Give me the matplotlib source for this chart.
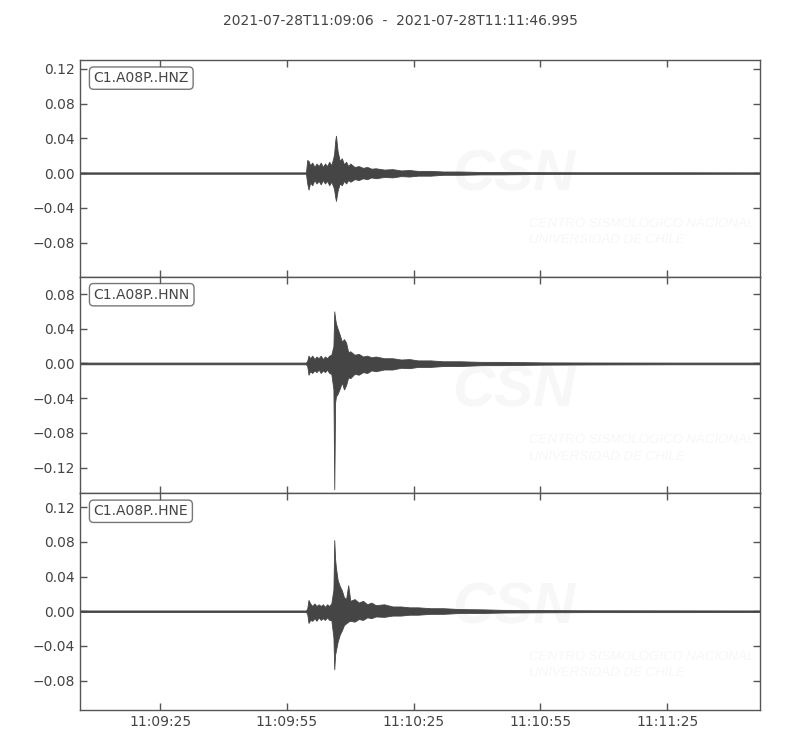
import datetime as dt
import matplotlib
matplotlib.use("Agg")
import matplotlib.pyplot as plt
import matplotlib.dates as mdates
from matplotlib.ticker import MultipleLocator

start = dt.datetime(2021, 7, 28, 11, 9, 6)
duration = 160.995
title = "2021-07-28T11:09:06  -  2021-07-28T11:11:46.995"
channels = ["C1.A08P..HNZ", "C1.A08P..HNN", "C1.A08P..HNE"]

t_sec = [0, 53.5, 53.8, 54.1, 54.5, 55, 55.5, 56, 56.5, 57,
         57.5, 58, 58.5, 59, 59.5, 60, 60.2, 60.4, 60.6, 61,
         61.5, 62, 62.5, 63, 63.5, 64, 65, 66, 67, 68,
         69, 70, 72, 74, 76, 78, 80, 83, 86, 90,
         95, 100, 110, 120, 140, 161]

# envelope (max / min) of each trace, in units of 1e-3
hnz_max = [0.8, 0.8, 15, 14, 9, 12, 7, 11, 8, 12,
           7, 11, 8, 13, 9, 18, 24, 36, 43, 25,
           14, 17, 10, 13, 8, 11, 7, 8, 6, 7,
           5, 5.5, 4, 4.5, 3, 3.5, 2.5, 2.5, 1.8, 1.8,
           1.2, 1.2, 1.0, 0.9, 0.9, 0.8]
hnz_min = [-0.8, -0.8, -12, -19, -11, -14, -8, -12, -9, -13,
           -8, -12, -9, -14, -10, -16, -20, -27, -32, -20,
           -12, -14, -9, -12, -8, -10, -7, -8, -6, -7,
           -5, -6, -4.5, -5, -3.5, -4, -3, -3, -2, -2,
           -1.5, -1.5, -1, -0.9, -0.9, -0.8]

hnn_max = [1, 1, 3, 9, 6, 9, 5, 8, 6, 9,
           5, 8, 6, 9, 10, 20, 60, 52, 46, 40,
           33, 25, 28, 24, 13, 14, 10, 11, 8, 9,
           7, 8, 6, 6, 4.5, 5, 3.5, 3.5, 2.5, 2.5,
           1.8, 1.8, 1.2, 1.1, 1, 1]
hnn_min = [-1, -1, -3, -13, -9, -11, -8, -10, -7, -11,
           -8, -10, -7, -11, -12, -30, -145, -45, -38, -35,
           -29, -22, -30, -25, -16, -17, -12, -13, -10, -11,
           -8, -9, -7, -7, -5, -5.5, -4, -4, -3, -3,
           -2, -2, -1.4, -1.2, -1, -1]

hne_max = [0.9, 0.9, 3, 13, 9, 6, 9, 6, 8, 6,
           8, 5, 8, 6, 9, 25, 82, 60, 50, 36,
           29, 24, 16, 14, 30, 12, 14, 10, 12, 8,
           10, 7, 8, 5.5, 5.5, 4.5, 4.5, 3.5, 3.5, 2.5,
           2.2, 1.6, 1.3, 1.1, 1, 0.9]
hne_min = [-0.9, -0.9, -3, -13.5, -10, -11, -8, -11, -7, -10,
           -8, -10, -7, -10, -10, -30, -67, -50, -45, -35,
           -27, -22, -16, -14, -12, -11, -12, -9, -10, -7,
           -8, -6, -6.5, -5, -5, -4, -4, -3, -3, -2,
           -2, -1.5, -1.2, -1, -1, -0.9]

envelopes = [(hnz_min, hnz_max), (hnn_min, hnn_max), (hne_min, hne_max)]
ylims = [(-0.1195, 0.1298), (-0.1499, 0.0998), (-0.1138, 0.1357)]

trace_color = "#454545"
text_color = "#444444"
spine_color = "#555555"
mark_color = "#f7f7f7"

times = mdates.date2num([start + dt.timedelta(seconds=s) for s in t_sec])
t0 = mdates.date2num(start)
t1 = mdates.date2num(start + dt.timedelta(seconds=duration))

fig, axes = plt.subplots(3, 1, figsize=(8, 7.5), dpi=100, sharex=True)
fig.subplots_adjust(left=0.1, right=0.95, top=0.9196, bottom=0.0533, hspace=0)

for ax, name, (lo, hi), yl in zip(axes, channels, envelopes, ylims):
    # faint CSN watermark
    ax.text(0.548, 0.47, "CSN", transform=ax.transAxes, fontsize=42,
            family="Liberation Sans", weight="bold", style="italic",
            color=mark_color, va="center", ha="left", zorder=0)
    ax.text(0.66, 0.245, "CENTRO SISMOLÓGICO NACIONAL", transform=ax.transAxes,
            fontsize=9.5, family="Liberation Sans", style="italic",
            color=mark_color, va="center", ha="left", zorder=0)
    ax.text(0.66, 0.17, "UNIVERSIDAD DE CHILE", transform=ax.transAxes,
            fontsize=9.5, family="Liberation Sans", style="italic",
            color=mark_color, va="center", ha="left", zorder=0)

    ax.fill_between(times, [v * 1e-3 for v in lo], [v * 1e-3 for v in hi],
                    color=trace_color, edgecolor=trace_color, lw=0.6, zorder=2)
    ax.set_ylim(*yl)
    ax.set_xlim(t0, t1)
    ax.yaxis.set_major_locator(MultipleLocator(0.04))
    ax.tick_params(direction="in", top=True, right=True, length=5, width=1,
                   color=spine_color, labelcolor=text_color, labelsize=10)
    for sp in ax.spines.values():
        sp.set_color(spine_color)
        sp.set_linewidth(1.0)
    ax.text(0.02, 0.95, name, transform=ax.transAxes, fontsize=10,
            color=text_color, ha="left", va="top", zorder=5,
            bbox=dict(boxstyle="round", fc="w", ec=spine_color, alpha=0.8))

axes[-1].xaxis.set_major_locator(mdates.SecondLocator(bysecond=[25, 55]))
axes[-1].xaxis.set_major_formatter(mdates.DateFormatter("%H:%M:%S"))
for ax in axes[:-1]:
    ax.tick_params(labelbottom=False)

fig.suptitle(title, y=0.972, va="center", fontsize=10, color=text_color)

fig.savefig("out.png", dpi=100)
